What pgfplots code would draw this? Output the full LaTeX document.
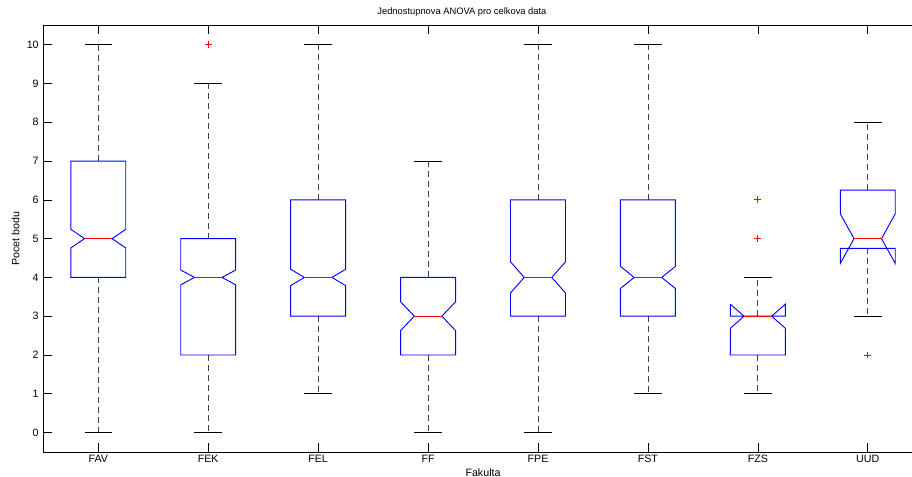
\documentclass[border=0pt]{standalone}
\usepackage{fontspec}
\setmainfont{Liberation Sans}
\usepackage{pgfplots}
\pgfplotsset{compat=1.18}
\begin{document}
\begin{tikzpicture}
\useasboundingbox (-32.5pt,-18.75pt) rectangle (651.5pt,338.98pt);
\begin{axis}[
  at={(0,0)}, anchor=south west,
  scale only axis, width=659.55pt, height=320pt,
  xmin=0.5, xmax=8.5, ymin=-0.5, ymax=10.5,
  xtick={1,2,3,4,5,6,7,8},
  xticklabels={FAV,FEK,FEL,FF,FPE,FST,FZS,UUD},
  ytick={0,1,2,3,4,5,6,7,8,9,10},
  ytick pos=left,
  tick align=inside, major tick length=6.4pt,
  tick style={black, line width=0.5pt},
  axis line style={draw=none},
  /pgf/number format/assume math mode=true,
  tick label style={font=\fontsize{8}{9.6}\selectfont},
  xticklabel style={yshift=1pt},
  every axis title shift=0pt,
  title={Jednostupnova ANOVA pro celkova data},
  title style={at={(axis description cs:0.476,1.031)}, anchor=center, font=\fontsize{7}{8.4}\selectfont},
  xlabel={Fakulta},
  xlabel style={at={(axis description cs:0.5,-0.048)}, anchor=center, font=\fontsize{8}{9.6}\selectfont},
  ylabel={Pocet bodu},
  ylabel style={at={(axis description cs:-0.0316,0.5)}, anchor=center, font=\fontsize{8}{9.6}\selectfont},
  unbounded coords=jump,
  clip=false,
]
% frame (right side lies outside the picture)
\draw[black, line width=0.6pt] (rel axis cs:1,1) -- (rel axis cs:0,1) -- (rel axis cs:0,0) -- (rel axis cs:1,0);
% whiskers (dashed)
\addplot[black!75, line width=0.6pt, dash pattern=on 4.5pt off 3pt, mark=none] coordinates {
 (1,7) (1,10) (nan,nan) (1,4) (1,0) (nan,nan)
 (2,5) (2,9) (nan,nan) (2,2) (2,0) (nan,nan)
 (3,6) (3,10) (nan,nan) (3,3) (3,1) (nan,nan)
 (4,4) (4,7) (nan,nan) (4,2) (4,0) (nan,nan)
 (5,6) (5,10) (nan,nan) (5,3) (5,0) (nan,nan)
 (6,6) (6,10) (nan,nan) (6,3) (6,1) (nan,nan)
 (7,3) (7,4) (nan,nan) (7,2) (7,1) (nan,nan)
 (8,6.25) (8,8) (nan,nan) (8,4.75) (8,3)
};
% caps
\addplot[black, line width=0.6pt, mark=none] coordinates {
 (0.875,10) (1.125,10) (nan,nan) (0.875,0) (1.125,0) (nan,nan)
 (1.875,9) (2.125,9) (nan,nan) (1.875,0) (2.125,0) (nan,nan)
 (2.875,10) (3.125,10) (nan,nan) (2.875,1) (3.125,1) (nan,nan)
 (3.875,7) (4.125,7) (nan,nan) (3.875,0) (4.125,0) (nan,nan)
 (4.875,10) (5.125,10) (nan,nan) (4.875,0) (5.125,0) (nan,nan)
 (5.875,10) (6.125,10) (nan,nan) (5.875,1) (6.125,1) (nan,nan)
 (6.875,4) (7.125,4) (nan,nan) (6.875,1) (7.125,1) (nan,nan)
 (7.875,8) (8.125,8) (nan,nan) (7.875,3) (8.125,3)
};
% notched boxes
\addplot[blue, line width=0.7pt, mark=none, line join=miter] coordinates {
 (0.75,5.24) (0.875,5) (0.75,4.76) (0.75,4) (1.25,4) (1.25,4.76) (1.125,5) (1.25,5.24) (1.25,7) (0.75,7) (0.75,5.24) (nan,nan)
 (1.75,4.19) (1.875,4) (1.75,3.81) (1.75,2) (2.25,2) (2.25,3.81) (2.125,4) (2.25,4.19) (2.25,5) (1.75,5) (1.75,4.19) (nan,nan)
 (2.75,4.21) (2.875,4) (2.75,3.79) (2.75,3) (3.25,3) (3.25,3.79) (3.125,4) (3.25,4.21) (3.25,6) (2.75,6) (2.75,4.21) (nan,nan)
 (3.75,3.37) (3.875,3) (3.75,2.63) (3.75,2) (4.25,2) (4.25,2.63) (4.125,3) (4.25,3.37) (4.25,4) (3.75,4) (3.75,3.37) (nan,nan)
 (4.75,4.40) (4.875,4) (4.75,3.60) (4.75,3) (5.25,3) (5.25,3.60) (5.125,4) (5.25,4.40) (5.25,6) (4.75,6) (4.75,4.40) (nan,nan)
 (5.75,4.285) (5.875,4) (5.75,3.715) (5.75,3) (6.25,3) (6.25,3.715) (6.125,4) (6.25,4.285) (6.25,6) (5.75,6) (5.75,4.285) (nan,nan)
 (6.75,3.31) (6.875,3) (6.75,2.69) (6.75,2) (7.25,2) (7.25,2.69) (7.125,3) (7.25,3.31) (7.25,3) (6.75,3) (6.75,3.31) (nan,nan)
 (7.75,5.64) (7.875,5) (7.75,4.36) (7.75,4.75) (8.25,4.75) (8.25,4.36) (8.125,5) (8.25,5.64) (8.25,6.25) (7.75,6.25) (7.75,5.64)
};
% medians
\addplot[red, line width=0.7pt, mark=none] coordinates {
 (0.875,5) (1.125,5) (nan,nan) (1.875,4) (2.125,4) (nan,nan)
 (2.875,4) (3.125,4) (nan,nan) (3.875,3) (4.125,3) (nan,nan)
 (4.875,4) (5.125,4) (nan,nan) (5.875,4) (6.125,4) (nan,nan)
 (6.875,3) (7.125,3) (nan,nan) (7.875,5) (8.125,5)
};
% outliers
\addplot[only marks, red, mark=+, mark size=2.6pt, line width=0.75pt, mark options={draw=red, solid}] coordinates {
 (2,10) (7,5) (7,6) (8,2)
};
\end{axis}
\end{tikzpicture}
\end{document}
